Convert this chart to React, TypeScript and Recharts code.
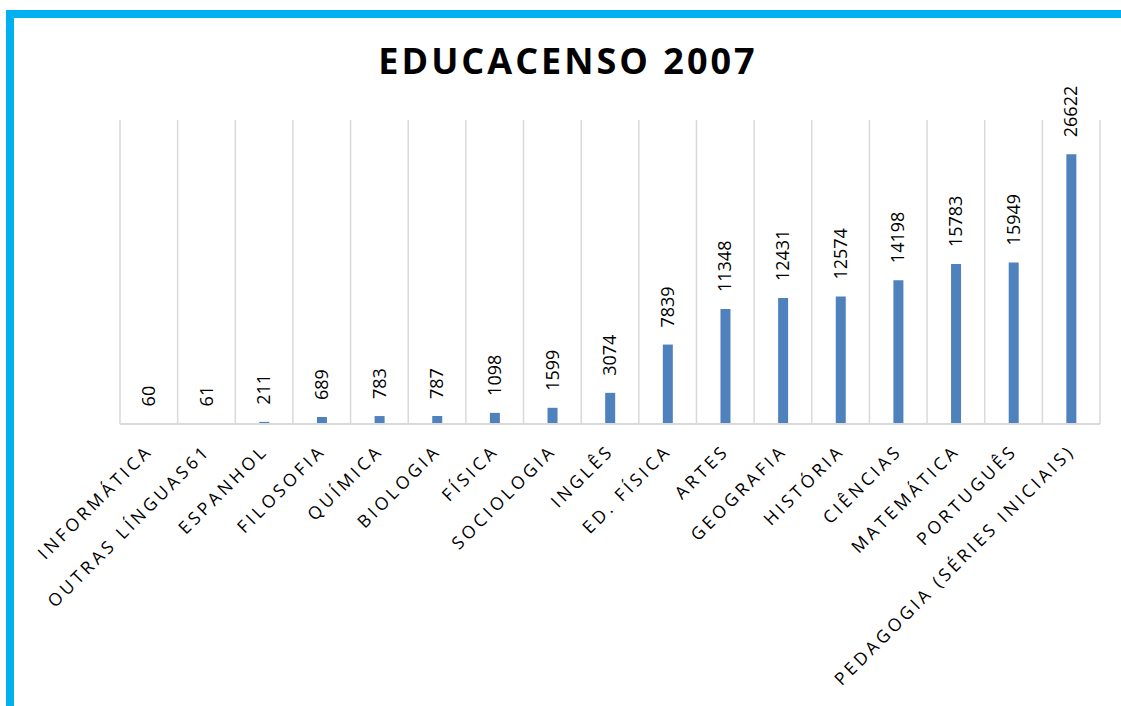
import React from "react";
import { BarChart, Bar, XAxis, YAxis, CartesianGrid, LabelList } from "recharts";

// Disciplinas e número de docentes (Educacenso 2007)
const categories = [
  "INFORMÁTICA",
  "OUTRAS LÍNGUAS61",
  "ESPANHOL",
  "FILOSOFIA",
  "QUÍMICA",
  "BIOLOGIA",
  "FÍSICA",
  "SOCIOLOGIA",
  "INGLÊS",
  "ED. FÍSICA",
  "ARTES",
  "GEOGRAFIA",
  "HISTÓRIA",
  "CIÊNCIAS",
  "MATEMÁTICA",
  "PORTUGUÊS",
  "PEDAGOGIA (SÉRIES INICIAIS)",
];
const values = [60, 61, 211, 689, 783, 787, 1098, 1599, 3074, 7839, 11348, 12431, 12574, 14198, 15783, 15949, 26622];

const data = categories.map((name, i) => ({ name, value: values[i] }));

const FONT = "'Open Sans', sans-serif";
const GRID = "#D9D9D9";

const XTick = (props: any) => {
  const { x, y, payload } = props;
  const ax = x + 5;
  const ay = y + 20;
  return (
    <text
      x={ax}
      y={ay}
      transform={`rotate(-45, ${ax}, ${ay})`}
      textAnchor="end"
      fontFamily={FONT}
      fontSize={17.5}
      letterSpacing={3.5}
      fill="#000"
    >
      {payload.value}
    </text>
  );
};

const BarLabel = (props: any) => {
  const { x, y, width, value } = props;
  const lx = x + width / 2 + 6;
  const ly = y - 17;
  return (
    <text
      x={lx}
      y={ly}
      transform={`rotate(-90, ${lx}, ${ly})`}
      textAnchor="start"
      fontFamily={FONT}
      fontSize={18}
      fill="#000"
    >
      {value}
    </text>
  );
};

export default function App() {
  return (
    <div style={{ position: "absolute", left: 0, top: 0, width: 1121, height: 706, background: "#fff" }}>
      {/* moldura azul */}
      <div
        style={{
          position: "absolute",
          left: 6,
          top: 10,
          right: 0,
          bottom: 0,
          borderLeft: "8px solid #00B0F0",
          borderTop: "8px solid #00B0F0",
        }}
      />
      <div
        style={{
          position: "absolute",
          left: 0,
          top: 38,
          width: 1136,
          textAlign: "center",
          fontFamily: FONT,
          fontWeight: 700,
          fontSize: 36,
          letterSpacing: 3,
          color: "#000",
          lineHeight: "46px",
        }}
      >
        EDUCACENSO 2007
      </div>
      <div style={{ position: "absolute", left: 0, top: 0 }}>
        <BarChart width={1121} height={706} data={data} margin={{ top: 120, right: 21, left: 120, bottom: 0 }}>
          <CartesianGrid
            horizontal={false}
            stroke={GRID}
            strokeWidth={1.5}
            verticalCoordinatesGenerator={({ offset }: any) =>
              categories.map((_, i) => offset.left + (i * offset.width) / categories.length).concat([offset.left + offset.width])
            }
          />
          <XAxis
            dataKey="name"
            interval={0}
            height={282}
            tickLine={false}
            axisLine={{ stroke: GRID, strokeWidth: 2 }}
            tick={<XTick />}
          />
          <YAxis hide domain={[0, 30000]} />
          <Bar dataKey="value" fill="#4F81BD" barSize={10} isAnimationActive={false}>
            <LabelList dataKey="value" content={<BarLabel />} />
          </Bar>
        </BarChart>
      </div>
    </div>
  );
}
